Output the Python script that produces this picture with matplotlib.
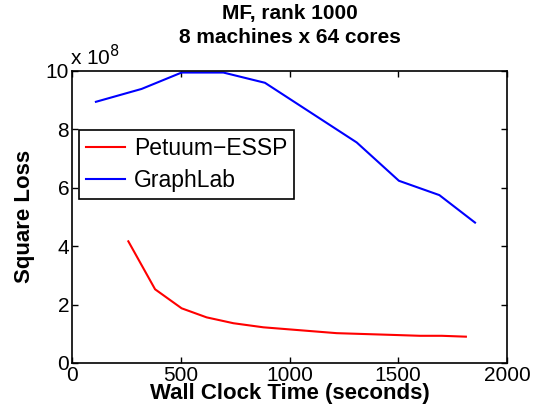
import matplotlib
matplotlib.use("Agg")
import matplotlib.pyplot as plt

plt.rcParams['font.family'] = ['Liberation Sans', 'DejaVu Sans']

essp_t = [259, 382, 504, 619, 742, 880, 1217, 1476, 1600, 1700, 1811]
essp_loss = [4.16, 2.52, 1.87, 1.56, 1.36, 1.22, 1.02, 0.96, 0.93, 0.93, 0.90]
gl_t = [110, 320, 504, 696, 887, 1309, 1503, 1689, 1853]
gl_loss = [8.93, 9.37, 9.93, 9.93, 9.58, 7.54, 6.23, 5.74, 4.80]
xticks = [0, 500, 1000, 1500, 2000]
yticks = [0, 2, 4, 6, 8, 10]

fig = plt.figure(figsize=(5.36, 4.2), dpi=100)
ax = fig.add_axes([72/536, 1-363/420, (507-72)/536, (363-70.5)/420])
ax.plot(essp_t, essp_loss, color='#ff0000', lw=1.5, label='Petuum\u2212ESSP')
ax.plot(gl_t, gl_loss, color='#0000ff', lw=1.5, label='GraphLab')
ax.set_xlim(0, 2000)
ax.set_ylim(0, 10)
ax.set_xticks(xticks)
ax.set_yticks(yticks)
ax.tick_params(direction='in', top=True, right=True, labelsize=15, length=4, width=1, pad=2)
for s in ax.spines.values():
    s.set_linewidth(1.2)
ax.set_xlabel('Wall Clock Time (seconds)', fontsize=16, fontweight='bold', labelpad=-1)
ax.set_ylabel('Square Loss', fontsize=16, fontweight='bold', labelpad=8)
ax.set_title('MF, rank 1000\n8 machines x 64 cores', fontsize=15, fontweight='bold', linespacing=1.3, pad=20)
ax.text(-0.005, 1.005, r'x 10$^{8}$', transform=ax.transAxes, fontsize=15, ha='left', va='bottom')
leg = ax.legend(loc='upper left', bbox_to_anchor=(0.016, 0.797), fontsize=16.5, frameon=True, fancybox=False,
                edgecolor='black', framealpha=1, handlelength=1.7, borderpad=0.3, labelspacing=0.4, handletextpad=0.4,
                borderaxespad=0)
leg.get_frame().set_linewidth(1.2)
fig.savefig('out.png', dpi=100)
